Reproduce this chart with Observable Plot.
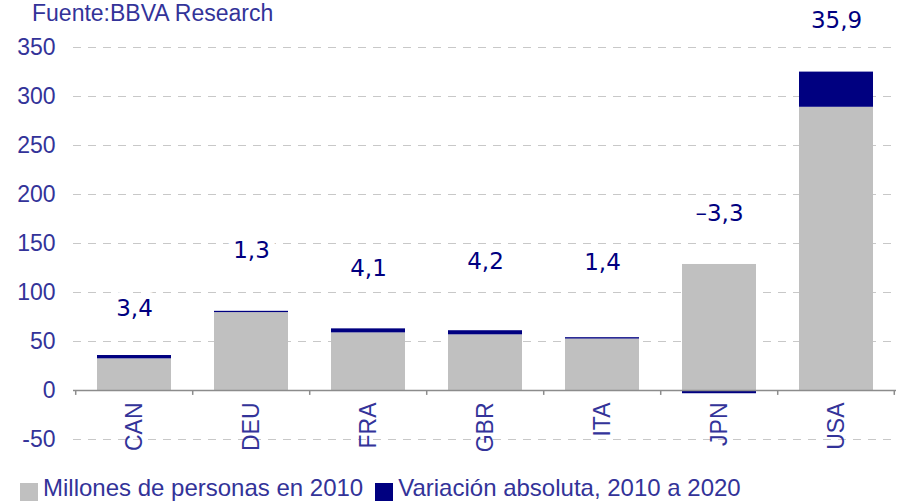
<!DOCTYPE html>
<html>
<head>
<meta charset="utf-8">
<script src="https://cdn.jsdelivr.net/npm/d3@7"></script>
<script src="https://cdn.jsdelivr.net/npm/@observablehq/plot@0.6"></script>
<style>
  html, body { margin: 0; padding: 0; background: #fff; }
  #wrap { position: relative; width: 897px; height: 501px; overflow: hidden; font-family: "Liberation Sans", Arial, sans-serif; color: #333399; }
  #title { position: absolute; left: 32px; top: 0px; font-size: 23px; white-space: nowrap; }
  #chart { position: absolute; left: 0; top: 0; }
  #legend { position: absolute; left: 20px; top: 474px; font-size: 24px; white-space: nowrap; display: flex; align-items: center; }
  .sw { display: inline-block; width: 18px; height: 18px; margin-right: 5px; position: relative; top: 4px; }
  .item { display: inline-flex; align-items: center; margin-right: 12px; }
</style>
</head>
<body>
<div id="wrap">
  <div id="chart"></div>
  <div id="title">Fuente:BBVA Research</div>
  <div id="legend"></div>
</div>
<script>
// ---- data ----
const categories = ["CAN", "DEU", "FRA", "GBR", "ITA", "JPN", "USA"];
const seriesNames = ["Millones de personas en 2010", "Variación absoluta, 2010 a 2020"];
const base2010 = [32.3, 79.5, 58.8, 56.8, 52.5, 128.6, 289.0];
const change = [3.4, 1.3, 4.1, 4.2, 1.4, -3.3, 35.9];
const labelY = [84, 143, 124, 131, 130, 180, 377];
const yTicks = [-50, 0, 50, 100, 150, 200, 250, 300, 350];
const colors = ["#c0c0c0", "#000080"];

const rows = [];
categories.forEach((c, i) => {
  rows.push({country: c, series: seriesNames[0], value: base2010[i]});
  rows.push({country: c, series: seriesNames[1], value: change[i]});
});
const labels = categories.map((c, i) => ({country: c, y: labelY[i], text: String(change[i]).replace(".", ",").replace("-", "–")}));

const W = 897, mL = 73, mR = 1;
const step = (W - mL - mR) / categories.length;

const chart = Plot.plot({
  width: W,
  height: 470,
  marginLeft: mL,
  marginRight: mR,
  marginTop: 47,
  marginBottom: 31,
  style: {fontFamily: "'Liberation Sans', Arial, sans-serif", color: "#333399", background: "transparent"},
  x: {domain: categories, paddingInner: 0.37, paddingOuter: 0.185, axis: null},
  y: {domain: [-50, 350], axis: null},
  color: {domain: seriesNames, range: colors},
  marks: [
    Plot.gridY(yTicks.filter(d => d !== 0), {stroke: "#c8c8c8", strokeOpacity: 1, strokeDasharray: "8,7", strokeWidth: 1}),
    Plot.text(labels, {x: "country", y: "y", text: "text", fill: "white", stroke: "white", strokeWidth: 14, fontSize: 23, fontFamily: "'DejaVu Sans', Verdana, sans-serif"}),
    Plot.barY(rows, {x: "country", y: "value", fill: "series", order: seriesNames}),
    Plot.ruleY([0], {stroke: "#8c8c8c", strokeWidth: 1.5}),
    Plot.ruleX(categories, {x: d => d, dx: -step / 2, y1: 0, y2: -5, stroke: "#8c8c8c", strokeWidth: 1.5}),
    Plot.ruleX(categories.slice(-1), {x: d => d, dx: step / 2 - 1, y1: 0, y2: -5, stroke: "#8c8c8c", strokeWidth: 1.5}),
    Plot.axisY(yTicks, {tickSize: 0, tickPadding: 18, tickFormat: d => String(d), fontSize: 23, fill: "#333399"}),
    Plot.text(categories, {x: d => d, y: 0, text: d => d, rotate: -90, textAnchor: "end", dy: 12, fontSize: 23, fill: "#333399"}),
    Plot.text(labels, {x: "country", y: "y", text: "text", fill: "#000080", fontSize: 23, fontFamily: "'DejaVu Sans', Verdana, sans-serif"})
  ]
});
document.getElementById("chart").appendChild(chart);

const legend = document.getElementById("legend");
seriesNames.forEach((s, i) => {
  const item = document.createElement("span");
  item.className = "item";
  const sw = document.createElement("span");
  sw.className = "sw";
  sw.style.background = colors[i];
  item.appendChild(sw);
  item.appendChild(document.createTextNode(s));
  legend.appendChild(item);
});
</script>
</body>
</html>
